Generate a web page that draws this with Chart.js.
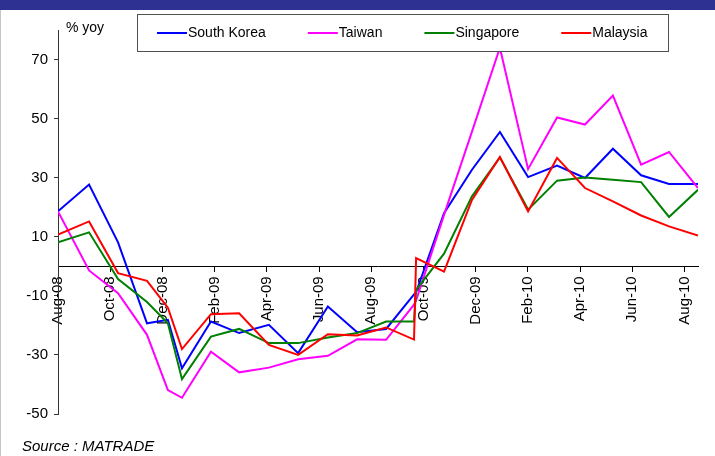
<!DOCTYPE html>
<html>
<head>
<meta charset="utf-8">
<script src="https://cdn.jsdelivr.net/npm/chart.js@4.4.1/dist/chart.umd.min.js"></script>
<style>
  html, body { margin: 0; padding: 0; background: #fff; }
  #wrap { position: relative; width: 715px; height: 456px; }
</style>
</head>
<body>
<div id="wrap"><canvas id="exportsChart" width="715" height="456"></canvas></div>
<script>
// months since Aug-08 for each observation
const months = [0, 1.19, 2.30, 3.41, 4.21, 4.75, 5.86, 6.94, 8.08, 9.20, 10.34, 11.46, 12.57,
  13.64, 13.72, 14.79, 15.86, 16.93, 18.01, 19.12, 20.19, 21.26, 22.34, 23.41, 24.52];

const southKorea = [18.6, 27.7, 8.1, -19.3, -18.1, -34.5, -18.7, -22.6, -19.8, -29.4, -13.6, -22.3, -21.2,
  -9.5, -8.8, 18.0, 32.7, 45.5, 30.2, 34.1, 29.9, 39.8, 30.8, 27.9, 27.9];
const taiwan = [18.6, -1.4, -9.1, -23.2, -41.9, -44.5, -28.9, -35.9, -34.3, -31.5, -30.3, -24.7, -24.9,
  -13.0, -11.5, 17.4, 45.6, 74.0, 32.9, 50.4, 48.0, 57.8, 34.4, 38.7, 26.5];
const singapore = [8.1, 11.5, -4.3, -12.1, -19.3, -38.2, -23.8, -21.2, -26.0, -26.0, -24.1, -22.6, -18.7,
  -18.7, -8.0, 4.3, 23.7, 36.9, 19.2, 29.0, 30.1, 29.3, 28.5, 16.7, 25.9];
const malaysia = [10.7, 15.2, -2.3, -4.9, -14.0, -28.0, -16.2, -15.9, -26.6, -30.0, -23.0, -23.4, -20.7,
  -24.8, 2.8, -1.8, 22.5, 37.0, 18.6, 36.7, 26.5, 22.0, 17.2, 13.5, 10.4];

const tickLabels = ['Aug-08', 'Oct-08', 'Dec-08', 'Feb-09', 'Apr-09', 'Jun-09', 'Aug-09',
  'Oct-09', 'Dec-09', 'Feb-10', 'Apr-10', 'Jun-10', 'Aug-10'];
const yTicks = [-50, -30, -10, 10, 30, 50, 70];

const seriesNames = ['South Korea', 'Taiwan', 'Singapore', 'Malaysia'];
const seriesColors = ['#0000ff', '#ff00ff', '#008000', '#ff0000'];
const seriesValues = [southKorea, taiwan, singapore, malaysia];

const FONT = '"Liberation Sans", Arial, sans-serif';

function toPoints(vals) {
  return months.map((m, i) => ({ x: m, y: vals[i] }));
}

// frame, title bar, "% yoy", source, boxed legend
const decorations = {
  id: 'decorations',
  beforeDraw(chart) {
    const ctx = chart.ctx;
    ctx.save();
    ctx.fillStyle = '#fff';
    ctx.fillRect(0, 0, chart.width, chart.height);
    ctx.fillStyle = '#2e3192';
    ctx.fillRect(0, 0, chart.width, 10);
    ctx.fillStyle = '#c4c4c4';
    ctx.fillRect(0, 10, 1, chart.height - 10);
    ctx.restore();
  },
  afterDraw(chart) {
    const ctx = chart.ctx;
    ctx.save();
    ctx.fillStyle = '#000';
    ctx.font = '14px ' + FONT;
    ctx.textBaseline = 'middle';
    ctx.textAlign = 'left';
    ctx.fillText('% yoy', 66, 28);

    ctx.font = 'italic 15px ' + FONT;
    ctx.fillText('Source : MATRADE', 22, 447);

    // legend box
    ctx.fillStyle = '#fff';
    ctx.fillRect(137, 14, 531, 37);
    ctx.strokeStyle = '#505050';
    ctx.lineWidth = 1;
    ctx.strokeRect(137.5, 14.5, 531, 37);

    ctx.font = '14px ' + FONT;
    let x = 157;
    seriesNames.forEach((name, i) => {
      ctx.strokeStyle = seriesColors[i];
      ctx.lineWidth = 2;
      ctx.beginPath();
      ctx.moveTo(x, 33);
      ctx.lineTo(x + 30, 33);
      ctx.stroke();
      ctx.fillStyle = '#000';
      ctx.fillText(name, x + 31, 33);
      x += 31 + ctx.measureText(name).width + 42;
    });
    ctx.restore();
  }
};

const ctx = document.getElementById('exportsChart').getContext('2d');
const chart = new Chart(ctx, {
  type: 'line',
  data: {
    datasets: seriesNames.map((name, i) => ({
      label: name,
      data: toPoints(seriesValues[i]),
      borderColor: seriesColors[i],
      backgroundColor: seriesColors[i],
      borderWidth: 2,
      pointRadius: 0,
      tension: 0,
      fill: false,
      order: 3 - i
    }))
  },
  options: {
    responsive: false,
    animation: false,
    devicePixelRatio: 1,
    layout: { padding: { left: 0, top: 30, right: 17, bottom: 42 } },
    plugins: {
      legend: { display: false },
      tooltip: { enabled: false }
    },
    scales: {
      x: {
        type: 'linear',
        position: { y: 0 },
        min: 0,
        max: 24.52,
        afterBuildTicks: (scale) => {
          scale.ticks = tickLabels.map((_, i) => ({ value: i * 2 }));
        },
        grid: {
          drawOnChartArea: false,
          drawTicks: true,
          tickLength: 5,
          tickColor: '#000'
        },
        border: { color: '#000', width: 1 },
        ticks: {
          autoSkip: false,
          minRotation: 90,
          maxRotation: 90,
          padding: 5,
          color: '#000',
          font: { family: FONT, size: 15 },
          callback: (v) => tickLabels[Math.round(v / 2)]
        }
      },
      y: {
        type: 'linear',
        min: -50,
        max: 80,
        afterBuildTicks: (scale) => {
          scale.ticks = yTicks.map(v => ({ value: v }));
        },
        afterFit: (scale) => { scale.width = 58; },
        grid: {
          drawOnChartArea: false,
          drawTicks: true,
          tickLength: 4,
          tickColor: '#333'
        },
        border: { color: '#333', width: 1 },
        ticks: {
          padding: 6,
          color: '#000',
          font: { family: FONT, size: 15 }
        }
      }
    }
  },
  plugins: [decorations]
});
</script>
</body>
</html>
